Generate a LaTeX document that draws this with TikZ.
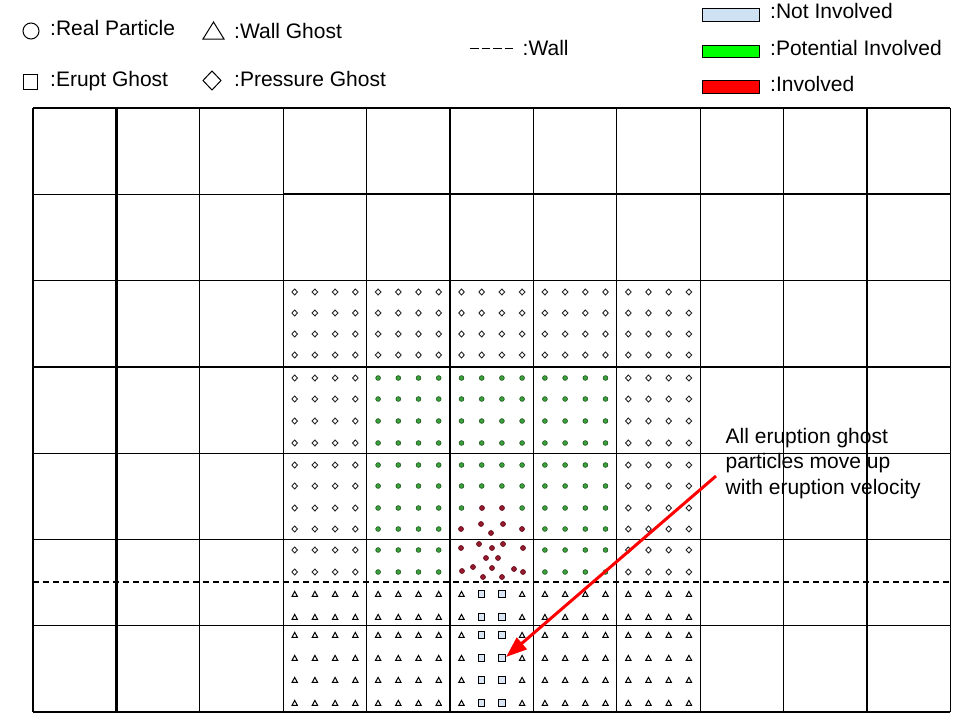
\documentclass[tikz,border=0pt]{standalone}
\usepackage{fontspec}
\setmainfont{Liberation Sans}
\usetikzlibrary{arrows.meta}
\definecolor{notinv}{RGB}{207,226,243}
\definecolor{potinv}{RGB}{0,255,0}
\definecolor{inv}{RGB}{255,0,0}
\definecolor{greenfill}{RGB}{60,160,60}
\definecolor{greenline}{RGB}{25,85,25}
\definecolor{redfill}{RGB}{150,25,45}
\definecolor{redline}{RGB}{95,10,25}
\definecolor{sqfill}{RGB}{218,230,244}
\newcommand\PDiam[2]{\draw[diamp] (#1,#2) +(-2.8,0) -- +(0,-3) -- +(2.8,0) -- +(0,3) -- cycle;}
\newcommand\PGreen[2]{\draw[greenp] (#1,#2) circle[radius=2.4pt];}
\newcommand\PTri[2]{\draw[trip] (#1,#2) +(-2.7,2.4) -- +(2.7,2.4) -- +(0,-2.6) -- cycle;}
\newcommand\PSq[2]{\draw[sqp] (#1,#2) +(-3.2,-3.2) rectangle +(3.2,3.2);}
\begin{document}
\begin{tikzpicture}[x=1pt,y=-1pt,
  gridline/.style={line width=1.3pt,black},
  gridthick/.style={line width=2.3pt,black},
  wallline/.style={line width=1.2pt,black,dash pattern=on 6pt off 4pt},
  lbl/.style={anchor=base west,inner sep=0pt,font=\fontsize{21}{25}\selectfont},
  legsym/.style={line width=1pt,black,fill=white},
  legbox/.style={line width=1pt,black},
  diamp/.style={line width=0.9pt,black!85,fill=white},
  greenp/.style={line width=0.6pt,draw=greenline,fill=greenfill},
  redp/.style={line width=0.6pt,draw=redline,fill=redfill},
  trip/.style={line width=1pt,black,fill=white,line join=miter},
  sqp/.style={line width=0.9pt,black,fill=sqfill},
  callout/.style={draw=inv,line width=3pt,-{Triangle[length=21pt,width=15pt]}}]
\useasboundingbox (0,0) rectangle (960,720);
\fill[white] (0,0) rectangle (960,720);

% ---------- legend ----------
\draw[legsym] (31,31) circle[radius=8pt];
\node[lbl] (lreal) at (50,35) {:Real Particle};
\draw[legsym] (203,39) -- (224,39) -- (213.5,22) -- cycle;
\node[lbl] (lwall) at (234,38) {:Wall Ghost};
\draw[legsym] (23,74) rectangle (37,89);
\node[lbl] (lerupt) at (50,86) {:Erupt Ghost};
\draw[legsym] (212,71) -- (221,80.5) -- (212,90) -- (203,80.5) -- cycle;
\node[lbl] (lpress) at (234,86) {:Pressure Ghost};
\draw[line width=1.2pt,black,dash pattern=on 8.5pt off 3pt] (470,48.5) -- (513,48.5);
\node[lbl] (lwl) at (522.5,55) {:Wall};
\draw[legbox,fill=notinv] (702,8) rectangle (759,21);
\node[lbl] (lnot) at (770,18) {:Not Involved};
\draw[legbox,fill=potinv] (702,45) rectangle (759,57);
\node[lbl] (lpot) at (770,55) {:Potential Involved};
\draw[legbox,fill=inv] (702,80) rectangle (759,93);
\node[lbl] (linv) at (770,91) {:Involved};

% ---------- grid ----------
\foreach \c in {0,...,11} {
  \pgfmathsetmacro\gx{33+83.4*\c}
  \draw[gridline] (\gx,108) -- (\gx,712.1);
}
\foreach \r in {0,...,7} {
  \pgfmathsetmacro\gy{108+86.3*\r}
  \draw[gridline] (33,\gy) -- (950.4,\gy);
}
\draw[gridthick] (116.4,108) -- (116.4,712.1);
\draw[gridthick] (867,108) -- (867,712.1);
\draw[gridthick] (283.2,194.3) -- (950.4,194.3);
\draw[wallline] (33,582) -- (950.4,582);

% ---------- particles ----------
\foreach \yy [count=\jj from 0] in {292,313,334,355,378,399,421,443,465,486,508,529,550,572,594,617,635,658,680,703} {
  \foreach \c in {3,...,7} {
    \foreach \k in {0,...,3} {
      \pgfmathsetmacro\xx{44.5+83.4*\c+20.2*\k}
      \pgfmathtruncatemacro\typ{(\jj<4) ? 1 : ((\jj<14) ? ((\c==3 || \c==7) ? 1 : ((\c==5 && (\jj>10 || (\jj==10 && (\k==1 || \k==2)))) ? 0 : 2)) : ((\c==5 && (\k==1 || \k==2)) ? 3 : 4))}
      \ifcase\typ\relax
      \or \PDiam{\xx}{\yy}
      \or \PGreen{\xx}{\yy}
      \or \PSq{\xx}{\yy}
      \or \PTri{\xx}{\yy}
      \fi
    }
  }
}
\foreach \rx/\ry in {482/508,502/508,
  461/529,481/524,491/533,503/524,522/529,
  461/548,479/544,492/548,503/544,523/548,
  486/558,498/558,
  462/571,473/567,492/568,514/569,523/572,
  483/577,502/577} {
  \draw[redp] (\rx,\ry) circle[radius=2.5pt];
}

% ---------- annotation ----------
\node[lbl] (t1) at (725.5,443) {All eruption ghost};
\node[lbl] (t2) at (725.5,468.5) {particles move up};
\node[lbl] (t3) at (725.5,494) {with eruption velocity};
\coordinate (astart) at (716,476);
\coordinate (aend) at (506,657);
\draw[callout] (astart) -- (aend);
\end{tikzpicture}
\end{document}
